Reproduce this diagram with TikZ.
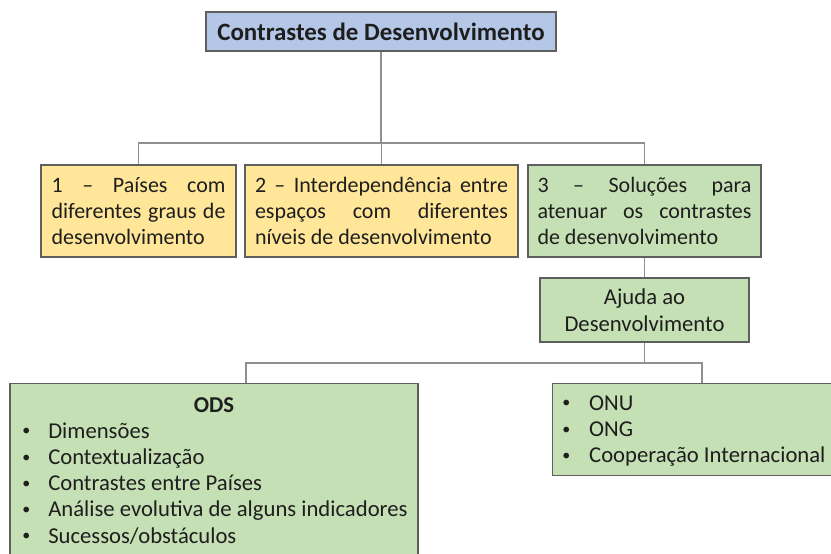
\documentclass[tikz,border=0pt]{standalone}
\usepackage{fontspec}
\setmainfont{Carlito}
\definecolor{titleblue}{HTML}{B4C7E7}
\definecolor{ochre}{HTML}{FFE699}
\definecolor{lgreen}{HTML}{C5E0B4}
\definecolor{boxline}{HTML}{5F5F5F}
\definecolor{linegray}{HTML}{8F8F8F}
\definecolor{txt}{HTML}{1E1E1E}
\tolerance=10000\relax
\hyphenpenalty=10000\relax
\newcommand\smallbul{\raisebox{1.6pt}{\fontsize{12pt}{12pt}\selectfont •}}
\begin{document}
\begin{tikzpicture}[x=0.75pt,y=-0.75pt,
  box/.style={draw=boxline, line width=1.1pt, inner sep=0pt, text=txt,
    font=\fontsize{16.5pt}{19.5pt}\selectfont},
  conn/.style={draw=linegray, line width=1.1pt},
  plain/.style={inner sep=0pt, text=txt, font=\fontsize{17pt}{19.7pt}\selectfont},
]
\useasboundingbox (0,0) rectangle (831,553);
\clip (0,0) rectangle (831,553);
\fill[white] (0,0) rectangle (831,553);

% boxes
\node[box, fill=titleblue, minimum width=350*0.75pt, minimum height=39*0.75pt,
  font=\fontsize{18.7pt}{21pt}\selectfont\bfseries] (title) at (381,31.5) {Contrastes de Desenvolvimento};

\node[box, fill=ochre, minimum width=195*0.75pt, minimum height=92*0.75pt,
  text width=174*0.75pt, align=justify] (b1) at (138.5,211)
  {1 – Países com\linebreak diferentes graus de\linebreak desenvolvimento};

\node[box, fill=ochre, minimum width=273*0.75pt, minimum height=92*0.75pt,
  text width=253*0.75pt, align=justify] (b2) at (381.5,211)
  {2 – Interdependência entre\linebreak espaços com diferentes\linebreak níveis de desenvolvimento};

\node[box, fill=lgreen, minimum width=233*0.75pt, minimum height=92*0.75pt,
  text width=214*0.75pt, align=justify] (b3) at (644.5,211)
  {3 – Soluções para\linebreak atenuar os contrastes\linebreak de desenvolvimento};

\node[box, fill=lgreen, minimum width=209*0.75pt, minimum height=64*0.75pt,
  align=center, font=\fontsize{17pt}{20.25pt}\selectfont] (ajuda) at (644.5,310)
  {Ajuda ao\\Desenvolvimento};

\node[box, fill=lgreen, minimum width=408*0.75pt, minimum height=190*0.75pt,
  anchor=north] (ods) at (214,383) {};
\node[box, fill=lgreen, minimum width=288*0.75pt, minimum height=92*0.75pt,
  anchor=north west] (onu) at (552,383) {};

% texts inside the lower boxes
\node[plain, anchor=base, font=\fontsize{17pt}{19.7pt}\selectfont\bfseries] (odstitle) at (214,412) {ODS};
\node[plain, anchor=base west] (odslist) at (22,438)
  {\begin{tabular}[t]{@{}p{19.5pt}@{}l@{}}
   \smallbul&Dimensões\\
   \smallbul&Contextualização\\
   \smallbul&Contrastes entre Países\\
   \smallbul&Análise evolutiva de alguns indicadores\\
   \smallbul&Sucessos/obstáculos
   \end{tabular}};
\node[plain, anchor=base west] (onulist) at (562,410)
  {\begin{tabular}[t]{@{}p{20.2pt}@{}l@{}}
   \smallbul&ONU\\
   \smallbul&ONG\\
   \smallbul&Cooperação Internacional
   \end{tabular}};

% connectors
\coordinate (bus1) at (0,143);
\coordinate (bus2) at (0,363);
\coordinate (odsin) at (246,383);
\coordinate (onuin) at (702,383);
\draw[conn] (title.south) -- (title.south |- bus1);
\draw[conn] (b1.north) -- (b1.north |- bus1) -- (b3.north |- bus1) -- (b3.north);
\draw[conn] (b2.north) -- (b2.north |- bus1);
\draw[conn] (b3.south) -- (ajuda.north);
\draw[conn] (ajuda.south) -- (ajuda.south |- bus2);
\draw[conn] (odsin) -- (odsin |- bus2) -- (onuin |- bus2) -- (onuin);
\end{tikzpicture}
\end{document}
